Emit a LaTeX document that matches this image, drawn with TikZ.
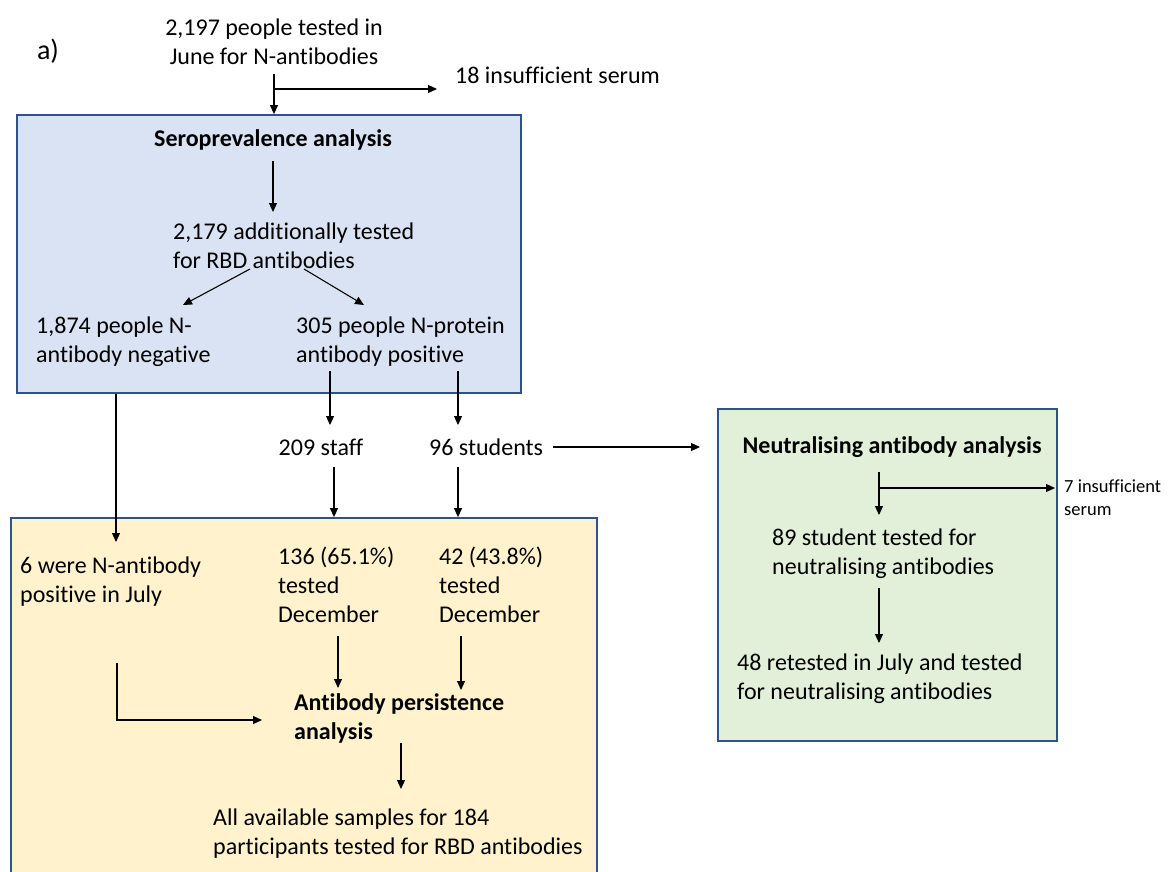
\documentclass[tikz,border=0pt]{standalone}
\usepackage{fontspec}
\setmainfont{Carlito}[Ligatures={NoCommon,NoContextual,NoRare},Contextuals={NoAlternate}]
\usetikzlibrary{arrows.meta,calc}
\definecolor{boxline}{HTML}{2F528F}
\definecolor{bluefill}{HTML}{DAE3F3}
\definecolor{yellowfill}{HTML}{FFF2CC}
\definecolor{greenfill}{HTML}{E2F0D9}
\tikzset{
  panel/.style={draw=boxline, line width=1.8pt, inner sep=0pt, rectangle},
  txt/.style={inner sep=0pt, align=left, font=\fontsize{24}{29}\selectfont},
  ctxt/.style={inner sep=0pt, align=center, font=\fontsize{24}{29}\selectfont},
  btxt/.style={inner sep=0pt, align=left, font=\fontsize{24}{29}\selectfont\bfseries},
  smalltxt/.style={inner sep=0pt, align=left, font=\fontsize{18.5}{23}\selectfont},
  arr/.style={line width=1.1pt, -{Triangle[length=9pt,width=8pt]}},
}
\begin{document}
\begin{tikzpicture}[x=1pt,y=-1pt]
\useasboundingbox (0,0) rectangle (1169,871);
\clip (0,0) rectangle (1169,871);
% panels
\node[panel, fill=bluefill, minimum width=504pt, minimum height=278pt] (sbox) at (269,254) {};
\node[panel, fill=yellowfill, minimum width=586pt, minimum height=382pt] (ybox) at (304,709) {};
\node[panel, fill=greenfill, minimum width=339pt, minimum height=332pt] (gbox) at (887.5,575) {};
% texts
\node[ctxt] (t0) at (274,42) {2,197 people tested in\\June for N-antibodies};
\node[txt, font=\fontsize{28}{34}\selectfont] (alab) at (48,51) {a)};
\node[txt, anchor=west] (ins1) at (455,75) {18 insufficient serum};
\node[btxt] (sero) at (273,140) {Seroprevalence analysis};
\node[txt, anchor=west] (add) at (173,246) {2,179 additionally tested\\for RBD antibodies};
\node[txt, anchor=west] (neg) at (36,342) {1,874 people N-\\antibody negative};
\node[txt, anchor=west] (pos) at (296,342) {305 people N-protein\\antibody positive};
\node[txt] (staff) at (321,447) {209 staff};
\node[txt, anchor=west] (stud) at (429,447) {96 students};
\node[txt, anchor=west] (six) at (20,582) {6 were N-antibody\\positive in July};
\node[txt, anchor=west] (d136) at (278,585) {136 (65.1\%)\\tested\\December};
\node[txt, anchor=west] (d42) at (439,585) {42 (43.8\%)\\tested\\December};
\node[btxt, anchor=west] (pers) at (294,718) {Antibody persistence\\analysis};
\node[txt, anchor=west] (all) at (213,834) {All available samples for 184\\participants tested for RBD antibodies};
\node[btxt] (neut) at (892,447) {Neutralising antibody analysis};
\node[smalltxt, anchor=west] (ins7) at (1064,498) {7 insufficient\\serum};
\node[txt, anchor=west] (s89) at (772,554) {89 student tested for\\neutralising antibodies};
\node[txt, anchor=west] (s48) at (737,679) {48 retested in July and tested\\for neutralising antibodies};
% connectors
\draw[arr] ($(t0.center)+(0,32)$) -- (t0.center |- sbox.north);
\draw[arr] ($(t0.center)+(0,47)$) -- ($(ins1.west)+(-18,14)$);
\draw[arr] ($(sero.center)+(0,21)$) -- ($(sero.center)+(0,72)$);
\draw[arr] ($(add.west)+(77,23)$) -- ($(neg.west)+(147,-37)$);
\draw[arr] ($(add.west)+(131,23)$) -- ($(pos.west)+(68,-37)$);
\draw[arr] ($(sbox.south -| neg.west)+(80,0)$) -- ($(six.west)+(96,-40)$);
\draw[arr] ($(pos.west)+(34,29)$) -- ($(staff.center)+(9,-22)$);
\draw[arr] ($(pos.west)+(162,29)$) -- ($(stud.west)+(29,-22)$);
\draw[arr] ($(stud.west)+(124,0)$) -- ($(neut.center)+(-192,0)$);
\draw[arr] ($(staff.center)+(13,20)$) -- ($(staff.center |- ybox.north)+(13,0)$);
\draw[arr] ($(stud.west)+(29,20)$) -- ($(stud.west |- ybox.north)+(29,0)$);
\draw[arr] ($(d136.west)+(60,51)$) -- ($(pers.west)+(44,-30)$);
\draw[arr] ($(d42.west)+(22,51)$) -- ($(pers.west)+(167,-28)$);
\draw[arr] ($(six.west)+(97,81)$) |- ($(pers.west)+(-32,2)$);
\draw[arr] ($(pers.west)+(107,25)$) -- ($(all.west)+(188,-45)$);
\draw[arr] ($(neut.center)+(-13,25)$) -- ($(s89.west)+(107,-39)$);
\draw[arr] ($(neut.center)+(-13,41)$) -- ($(ins7.west)+(-9,-10)$);
\draw[arr] ($(s89.west)+(107,34)$) -- ($(s48.west)+(142,-36)$);
\end{tikzpicture}
\end{document}
